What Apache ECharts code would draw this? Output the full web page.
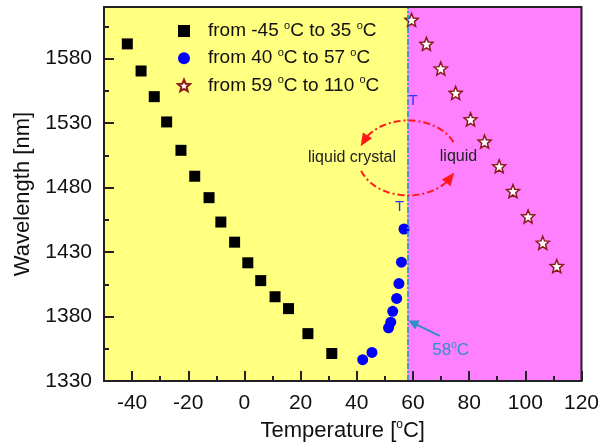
<!DOCTYPE html>
<html><head><meta charset="utf-8">
<script src="https://cdn.jsdelivr.net/npm/echarts@6/dist/echarts.min.js"></script>
<style>html,body{margin:0;padding:0;background:#fff}#c{width:602px;height:447px}</style>
</head><body><div id="c"></div>
<script>
// ---- data ----
const seriesNames = ['from -45 °C to 35 °C', 'from 40 °C to 57 °C', 'from 59 °C to 110 °C'];
const squareT = [-41.7, -36.8, -32.1, -27.7, -22.6, -17.7, -12.6, -8.4, -3.5, 1.2, 5.8, 10.9, 15.7, 22.6, 31.1];
const squareW = [1591.4, 1570.4, 1550.5, 1530.9, 1508.9, 1488.8, 1472.2, 1453.3, 1437.7, 1421.7, 1407.9, 1395.4, 1386.2, 1366.8, 1351.4];
const circleT = [42.1, 45.4, 51.3, 52.1, 52.8, 54.2, 55.0, 55.9, 56.8];
const circleW = [1346.6, 1352.2, 1371.3, 1375.7, 1384.1, 1394.1, 1405.6, 1422.2, 1447.9];
const starT = [59.5, 64.8, 69.9, 75.2, 80.5, 85.5, 90.7, 95.6, 101.0, 106.2, 111.2];
const starW = [1610, 1591.4, 1572.3, 1553.4, 1532.9, 1515.6, 1496.5, 1477.3, 1457.6, 1437.2, 1419.1];
const xMajor = [-40, -20, 0, 20, 40, 60, 80, 100, 120];
const xMinor = [-30, -10, 10, 30, 50, 70, 90, 110];
const yMajor = [1330, 1380, 1430, 1480, 1530, 1580];
const yMinor = [1355, 1405, 1455, 1505, 1555, 1605];
const transitionT = 58;
const xRange = [-50, 120];
const yRange = [1330, 1620];

// ---- styles / layout ----
const FONT = 'Liberation Sans, Arial, sans-serif';
const AX = '#222';
const starPath = 'path://M10,0L12.6,6.4L19.51,6.91L14.2,11.4L15.88,18.09L10,14.5L4.12,18.09L5.8,11.4L0.49,6.91L7.4,6.4Z';
const zip = (a, b) => a.map((v, i) => [v, b[i]]);
const supFmt = s => '{g|}{a|' + s.replace(/°/g, '}{s|o}{a|') + '}';

const chart = echarts.init(document.getElementById('c'), null, {renderer: 'canvas'});
const tickStyle = {color: AX, width: 2};
const option = {
  animation: false,
  backgroundColor: '#fff',
  grid: {left: 104, right: 20, top: 7, bottom: 61, containLabel: false},
  legend: {
    orient: 'vertical', left: 172, top: 15, itemGap: 6.7,
    itemWidth: 12, itemHeight: 12,
    data: seriesNames,
    formatter: supFmt,
    textStyle: {
      color: '#111', fontFamily: FONT,
      rich: {
        g: {width: 13},
        a: {fontSize: 19, lineHeight: 22, fontFamily: FONT, color: '#111'},
        s: {fontSize: 11, lineHeight: 12, verticalAlign: 'top', fontFamily: FONT, color: '#111'}
      }
    }
  },
  xAxis: [
    {
      type: 'value', min: xRange[0], max: xRange[1], position: 'bottom', splitLine: {show: false},
      axisLine: {show: true, onZero: false, lineStyle: {color: AX, width: 2}},
      axisTick: {show: true, inside: true, length: 10, customValues: xMajor, lineStyle: tickStyle},
      axisLabel: {customValues: xMajor, margin: 12, fontSize: 21, color: '#111', fontFamily: FONT, formatter: v => String(v)},
      name: '{a|Temperature [}{s|o}{a|C]}', nameLocation: 'middle', nameGap: 34,
      nameTextStyle: {rich: {
        a: {fontSize: 22, lineHeight: 24, fontFamily: FONT, color: '#111'},
        s: {fontSize: 12, lineHeight: 12, verticalAlign: 'top', fontFamily: FONT, color: '#111'}
      }}
    },
    {
      type: 'value', min: xRange[0], max: xRange[1], position: 'bottom', splitLine: {show: false},
      axisLine: {show: false, onZero: false},
      axisTick: {show: true, inside: true, length: 5, customValues: xMinor, lineStyle: tickStyle},
      axisLabel: {show: false}
    }
  ],
  yAxis: [
    {
      type: 'value', min: yRange[0], max: yRange[1], position: 'left', splitLine: {show: false},
      axisLine: {show: true, onZero: false, lineStyle: {color: AX, width: 2}},
      axisTick: {show: true, inside: true, length: 10, customValues: yMajor, lineStyle: tickStyle},
      axisLabel: {customValues: yMajor, margin: 12, fontSize: 21, color: '#111', fontFamily: FONT, formatter: v => String(v)},
      name: 'Wavelength [nm]', nameLocation: 'middle', nameGap: 65,
      nameTextStyle: {fontSize: 22, fontFamily: FONT, color: '#111'}
    },
    {
      type: 'value', min: yRange[0], max: yRange[1], position: 'left', splitLine: {show: false},
      axisLine: {show: false, onZero: false},
      axisTick: {show: true, inside: true, length: 5, customValues: yMinor, lineStyle: tickStyle},
      axisLabel: {show: false}
    }
  ],
  series: [
    {
      name: seriesNames[0], type: 'scatter', z: 3, symbol: 'rect', symbolSize: 11,
      itemStyle: {color: '#000', opacity: 1}, data: zip(squareT, squareW),
      markLine: {
        silent: true, symbol: 'none', label: {show: false},
        lineStyle: {color: '#1f97cf', width: 1.6, type: [6, 2, 2, 2]},
        data: [{xAxis: transitionT}]
      }
    },
    {
      name: seriesNames[1], type: 'scatter', z: 3, symbol: 'circle', symbolSize: 11,
      itemStyle: {color: '#0000ff', opacity: 1}, data: zip(circleT, circleW)
    },
    {
      name: seriesNames[2], type: 'scatter', z: 3, symbol: starPath, symbolSize: 13,
      itemStyle: {color: '#fff', borderColor: '#8b1a1a', borderWidth: 1.5, opacity: 1}, data: zip(starT, starW)
    }
  ]
};
chart.setOption(option);

// ---- annotations (anchored in data coordinates) ----
const ellipseCenter = [58.3, 1503];
const lcLabelAt = [38.3, 1503];
const liqLabelAt = [76.2, 1504];
const tTopAt = [60.0, 1547];
const tLowAt = [55.2, 1465];
const tempLabelAt = [73.4, 1354];
const tempArrowFrom = [69.5, 1365];
const tempArrowTo = [58.4, 1377];

function annotate() {
  const P = p => chart.convertToPixel({xAxisIndex: 0, yAxisIndex: 0}, p);
  const tl = P([xRange[0], yRange[1]]), br = P([xRange[1], yRange[0]]);
  const mid = P([transitionT, yRange[0]]);
  const c = P(ellipseCenter);
  const rx = 50, ry = 37.5;
  const E = t => [c[0] + rx * Math.cos(t * Math.PI / 180), c[1] - ry * Math.sin(t * Math.PI / 180)];
  const arcPts = (a, b) => { const r = []; for (let t = a; t <= b; t += 2) r.push(E(t)); return r; };
  const head = (tip, from, len, hw, color) => {
    const dx = tip[0] - from[0], dy = tip[1] - from[1], L = Math.hypot(dx, dy);
    const ux = dx / L, uy = dy / L;
    const bx = tip[0] - ux * len, by = tip[1] - uy * len;
    return {type: 'polygon', z: 20, shape: {points: [tip, [bx - uy * hw, by + ux * hw], [bx + uy * hw, by - ux * hw]]}, style: {fill: color}};
  };
  const dash = {stroke: '#ff1a1a', lineWidth: 2, lineDash: [7, 3, 2, 3], fill: null};
  const txt = (p, s, size, color) => ({type: 'text', z: 20, x: p[0], y: p[1], style: {text: s, fontSize: size, fontFamily: FONT, fill: color, align: 'center', verticalAlign: 'middle'}});
  const tf = P(tempArrowFrom), tt = P(tempArrowTo);
  const g = [
    {type: 'rect', z: -10, silent: true, shape: {x: tl[0], y: tl[1], width: mid[0] - tl[0], height: br[1] - tl[1]}, style: {fill: '#ffff80'}},
    {type: 'rect', z: -10, silent: true, shape: {x: mid[0], y: tl[1], width: br[0] - mid[0], height: br[1] - tl[1]}, style: {fill: '#ff80ff'}},
    {type: 'rect', z: 30, silent: true, shape: {x: tl[0], y: tl[1], width: br[0] - tl[0], height: br[1] - tl[1]}, style: {stroke: AX, lineWidth: 2, fill: null}},
    {type: 'polyline', z: 20, shape: {points: arcPts(25, 150)}, style: dash},
    head(E(162), E(148), 13, 5.5, '#ff1a1a'),
    {type: 'polyline', z: 20, shape: {points: arcPts(200, 325)}, style: dash},
    head(E(337), E(323), 13, 5.5, '#ff1a1a'),
    txt(P(lcLabelAt), 'liquid crystal', 16, '#222'),
    txt(P(liqLabelAt), 'liquid', 16, '#222'),
    txt(P(tTopAt), 'T', 15, '#3333ff'),
    txt(P(tLowAt), 'T', 15, '#3333ff'),
    {type: 'text', z: 20, x: P(tempLabelAt)[0], y: P(tempLabelAt)[1], style: {
      text: '{a|58}{s|o}{a|C}', align: 'center', verticalAlign: 'middle',
      rich: {a: {fontSize: 17, lineHeight: 19, fontFamily: FONT, fill: '#2f8fc8'}, s: {fontSize: 10, lineHeight: 10, verticalAlign: 'top', fontFamily: FONT, fill: '#2f8fc8'}}
    }},
    {type: 'line', z: 20, shape: {x1: tf[0], y1: tf[1], x2: tt[0] + 7, y2: tt[1] + 3.6}, style: {stroke: '#2f8fc8', lineWidth: 2}},
    head(tt, tf, 10, 5, '#2f8fc8')
  ];
  chart.setOption({graphic: {elements: g}});
}
annotate();
</script></body></html>
